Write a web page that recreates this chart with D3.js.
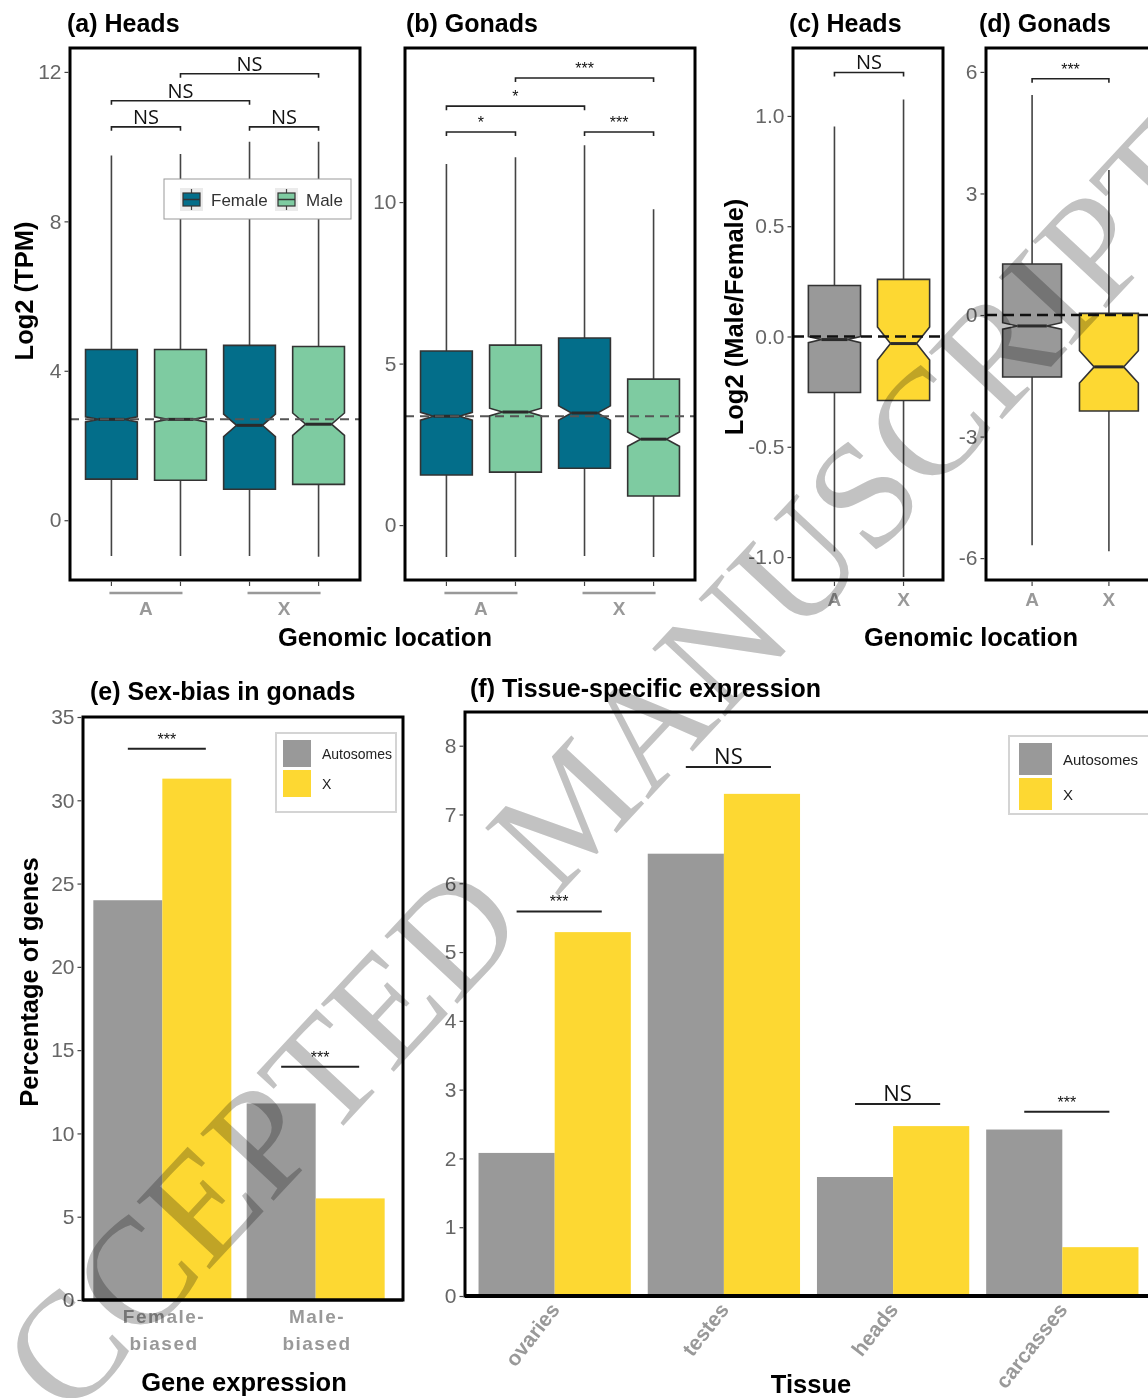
<!DOCTYPE html>
<html>
<head>
<meta charset="utf-8">
<script src="https://cdn.jsdelivr.net/npm/d3@7"></script>
<style>
  body { margin: 0; background: #fff; }
  svg { font-family: "Liberation Sans", Arial, sans-serif; }
</style>
</head>
<body>
<svg id="fig" width="1148" height="1398"></svg>
<script>
// ---------- data ----------
const locations = ["A", "X"];
const sexes = ["Female", "Male"];

// (a) heads, log2 TPM — box order: A-Female, A-Male, X-Female, X-Male
const headsLower = [-0.96, -0.96, -0.96, -0.98];
const headsQ1 = [1.10, 1.07, 0.83, 0.96];
const headsMedian = [2.70, 2.70, 2.54, 2.57];
const headsQ3 = [4.57, 4.57, 4.68, 4.65];
const headsUpper = [9.76, 9.80, 10.13, 10.13];
const headsNotch = [0.07, 0.07, 0.30, 0.30];
const headsSig = [
  { a: 0, b: 1, y: 10.53, label: "NS" },
  { a: 0, b: 2, y: 11.23, label: "NS" },
  { a: 2, b: 3, y: 10.53, label: "NS" },
  { a: 1, b: 3, y: 11.95, label: "NS" }
];

// (b) gonads, log2 TPM
const gonadsLower = [-0.99, -0.99, -0.96, -0.99];
const gonadsQ1 = [1.55, 1.64, 1.76, 0.90];
const gonadsMedian = [3.37, 3.50, 3.47, 2.66];
const gonadsQ3 = [5.39, 5.57, 5.79, 4.52];
const gonadsUpper = [11.18, 11.39, 11.76, 9.78];
const gonadsNotch = [0.12, 0.12, 0.22, 0.22];
const gonadsSig = [
  { a: 0, b: 1, y: 12.17, label: "*" },
  { a: 2, b: 3, y: 12.17, label: "***" },
  { a: 0, b: 2, y: 12.97, label: "*" },
  { a: 1, b: 3, y: 13.84, label: "***" }
];

// (c) heads, log2 male/female — order: A, X
const ratioHeadsLower = [-0.975, -1.09];
const ratioHeadsQ1 = [-0.254, -0.29];
const ratioHeadsMedian = [-0.014, -0.032];
const ratioHeadsQ3 = [0.231, 0.259];
const ratioHeadsUpper = [0.952, 1.075];
const ratioHeadsNotch = [0.014, 0.075];
const ratioHeadsSig = [{ a: 0, b: 1, y: 1.197, label: "NS" }];

// (d) gonads, log2 male/female
const ratioGonadsLower = [-5.68, -5.83];
const ratioGonadsQ1 = [-1.53, -2.37];
const ratioGonadsMedian = [-0.27, -1.28];
const ratioGonadsQ3 = [1.26, 0.04];
const ratioGonadsUpper = [5.43, 3.58];
const ratioGonadsNotch = [0.08, 0.40];
const ratioGonadsSig = [{ a: 0, b: 1, y: 5.83, label: "***" }];

// (e) sex-biased genes in gonads (%)
const chromTypes = ["Autosomes", "X"];
const biasCategories = ["Female-biased", "Male-biased"];
const biasAutosomes = [24.0, 11.8];
const biasX = [31.3, 6.1];
const biasSig = [{ cat: 0, y: 33.1, label: "***" }, { cat: 1, y: 14.0, label: "***" }];

// (f) tissue-specific expression (%)
const tissues = ["ovaries", "testes", "heads", "carcasses"];
const tissueAutosomes = [2.08, 6.43, 1.73, 2.42];
const tissueX = [5.29, 7.30, 2.47, 0.71];
const tissueSig = [
  { cat: 0, y: 5.59, label: "***" },
  { cat: 1, y: 7.69, label: "NS" },
  { cat: 2, y: 2.79, label: "NS" },
  { cat: 3, y: 2.68, label: "***" }
];

// ---------- drawing ----------
const svg = d3.select("#fig");
const teal = "#036e8a", mint = "#7ecba1", greyFill = "#999999", yellow = "#fdd832";
const tickGrey = "#666";
const labelSize = "25.5px";

function styleAxis(g, size) {
  g.select(".domain").remove();
  g.selectAll(".tick line").attr("stroke", "#444").attr("stroke-width", 1.2);
  g.selectAll(".tick text")
    .attr("fill", tickGrey)
    .style("font-size", size + "px")
    .style("font-family", "'Liberation Sans', Arial, sans-serif");
}

function bracket(g, xa, xb, y, label, withEnds, big) {
  const d = withEnds ? `M${xa},${y + 4}V${y}H${xb}V${y + 4}` : `M${xa},${y}H${xb}`;
  g.append("path").attr("d", d).attr("fill", "none").attr("stroke", "#222").attr("stroke-width", withEnds ? 1.6 : 2);
  const isNS = label === "NS";
  g.append("text")
    .attr("x", (xa + xb) / 2)
    .attr("y", isNS ? y - 3 : y - 4)
    .attr("text-anchor", "middle")
    .style("font-family", isNS ? "'Open Sans', sans-serif" : "'Liberation Sans', sans-serif")
    .style("font-size", isNS ? (big ? "22px" : "20px") : "16px")
    .attr("fill", "#111")
    .text(label);
}

function title(x, y, txt) {
  svg.append("text").attr("x", x).attr("y", y)
    .style("font-size", "25px").style("font-weight", "bold").text(txt);
}

function drawBoxPanel(p) {
  const g = svg.append("g");
  const top = 48, bottom = 580;
  const y = d3.scaleLinear().domain(p.yDomain).range([bottom, top]);
  const xLoc = d3.scalePoint().domain(locations).range([p.x0, p.x1]).padding(p.padding);
  const step = xLoc.step();
  const xSex = d3.scalePoint().domain(sexes).range([-step / 4, step / 4]);
  const keys = p.nested ? d3.cross(locations, sexes) : locations.map(l => [l]);
  const xPos = k => xLoc(k[0]) + (k.length > 1 ? xSex(k[1]) : 0);
  const w = p.boxFrac * step;
  const s = p.stats;

  const boxes = keys.map((k, i) => ({
    key: k, x: xPos(k),
    lo: s.lower[i], q1: s.q1[i], med: s.median[i], q3: s.q3[i], hi: s.upper[i], notch: s.notch[i]
  }));

  // whiskers
  g.selectAll(".whisk").data(boxes).enter().append("path")
    .attr("d", b => `M${b.x},${y(b.hi)}V${y(b.q3)}M${b.x},${y(b.q1)}V${y(b.lo)}`)
    .attr("stroke", "#444").attr("stroke-width", 1.6);

  // notched boxes
  g.selectAll(".box").data(boxes).enter().append("path")
    .attr("d", b => {
      const l = b.x - w / 2, r = b.x + w / 2;
      const nh = y(b.med + b.notch), nl = y(b.med - b.notch), m = y(b.med);
      return `M${l},${y(b.q3)}H${r}V${nh}L${b.x + w / 4},${m}L${r},${nl}V${y(b.q1)}H${l}V${nl}L${b.x - w / 4},${m}L${l},${nh}Z`;
    })
    .attr("fill", b => p.fill(b.key))
    .attr("stroke", "#333").attr("stroke-width", 1.6);

  g.selectAll(".med").data(boxes).enter().append("line")
    .attr("x1", b => b.x - w / 4).attr("x2", b => b.x + w / 4)
    .attr("y1", b => y(b.med)).attr("y2", b => y(b.med))
    .attr("stroke", "#2b2b2b").attr("stroke-width", 3);

  // reference line
  g.append("line")
    .attr("x1", p.x0).attr("x2", p.frameRight)
    .attr("y1", y(p.ref)).attr("y2", y(p.ref))
    .attr("stroke", p.refColor).attr("stroke-width", p.refWidth)
    .attr("stroke-dasharray", p.refDash);

  // significance
  p.sig.forEach(d => bracket(g, boxes[d.a].x, boxes[d.b].x, y(d.y), d.label, true, false));

  // frame
  g.append("rect").attr("x", p.x0).attr("y", top)
    .attr("width", p.frameRight - p.x0).attr("height", bottom - top)
    .attr("fill", "none").attr("stroke", "#000").attr("stroke-width", 3);

  // y axis
  const ya = g.append("g").attr("transform", `translate(${p.x0 - 1.5},0)`)
    .call(d3.axisLeft(y).tickValues(p.ticks).tickFormat(p.fmt).tickSize(4).tickPadding(3));
  styleAxis(ya, 21);

  // x ticks and labels
  g.selectAll(".xt").data(boxes).enter().append("line")
    .attr("x1", b => b.x).attr("x2", b => b.x).attr("y1", bottom + 1.5).attr("y2", bottom + 6)
    .attr("stroke", "#444").attr("stroke-width", 1.2);
  if (p.nested) {
    locations.forEach((loc, i) => {
      const xa = boxes[i * 2].x, xb = boxes[i * 2 + 1].x;
      g.append("line").attr("x1", xa - 2).attr("x2", xb + 2).attr("y1", 593).attr("y2", 593)
        .attr("stroke", "#999").attr("stroke-width", 2.5);
      g.append("text").attr("x", xLoc(loc)).attr("y", 615).attr("text-anchor", "middle")
        .attr("fill", "#999").style("font-weight", "bold").style("font-size", "19px").text(loc);
    });
  } else {
    boxes.forEach(b => {
      g.append("text").attr("x", b.x).attr("y", 606).attr("text-anchor", "middle")
        .attr("fill", "#999").style("font-weight", "bold").style("font-size", "19px").text(b.key[0]);
    });
  }
  return { g, boxes };
}

// (a)
title(67, 32, "(a) Heads");
const panelA = drawBoxPanel({
  x0: 70, x1: 360, frameRight: 360, padding: 0.55, nested: true, boxFrac: 0.375,
  yDomain: [-1.6, 12.64], ticks: [0, 4, 8, 12], fmt: d => d,
  stats: { lower: headsLower, q1: headsQ1, median: headsMedian, q3: headsQ3, upper: headsUpper, notch: headsNotch },
  fill: k => k[1] === "Female" ? teal : mint,
  ref: headsMedian[0], refColor: "#555", refWidth: 2, refDash: "9,6",
  sig: headsSig
});

// legend for (a)
const leg = panelA.g.append("g");
leg.append("rect").attr("x", 164).attr("y", 179).attr("width", 187).attr("height", 40)
  .attr("fill", "#fff").attr("stroke", "#999").attr("stroke-width", 1);
[["Female", teal, 180, 211], ["Male", mint, 275, 306]].forEach(([name, col, kx, tx]) => {
  leg.append("rect").attr("x", kx).attr("y", 188).attr("width", 23).attr("height", 23).attr("fill", "#ebebeb");
  leg.append("line").attr("x1", kx + 11.5).attr("x2", kx + 11.5).attr("y1", 189).attr("y2", 210).attr("stroke", "#444").attr("stroke-width", 1.2);
  leg.append("rect").attr("x", kx + 3).attr("y", 193).attr("width", 17).attr("height", 13)
    .attr("fill", col).attr("stroke", "#333").attr("stroke-width", 1.2);
  leg.append("line").attr("x1", kx + 3).attr("x2", kx + 20).attr("y1", 199.5).attr("y2", 199.5).attr("stroke", "#333").attr("stroke-width", 1.5);
  leg.append("text").attr("x", tx).attr("y", 206).attr("fill", "#333").style("font-size", "17px").text(name);
});

svg.append("text").attr("transform", "translate(33,291) rotate(-90)").attr("text-anchor", "middle")
  .style("font-size", labelSize).style("font-weight", "bold").text("Log2 (TPM)");

// (b)
title(406, 32, "(b) Gonads");
drawBoxPanel({
  x0: 405, x1: 695, frameRight: 695, padding: 0.55, nested: true, boxFrac: 0.375,
  yDomain: [-1.7, 14.77], ticks: [0, 5, 10], fmt: d => d,
  stats: { lower: gonadsLower, q1: gonadsQ1, median: gonadsMedian, q3: gonadsQ3, upper: gonadsUpper, notch: gonadsNotch },
  fill: k => k[1] === "Female" ? teal : mint,
  ref: gonadsMedian[0], refColor: "#555", refWidth: 2, refDash: "9,6",
  sig: gonadsSig
});

svg.append("text").attr("x", 385).attr("y", 646).attr("text-anchor", "middle")
  .style("font-size", labelSize).style("font-weight", "bold").text("Genomic location");

// (c)
title(789, 32, "(c) Heads");
drawBoxPanel({
  x0: 793, x1: 945, frameRight: 943, padding: 0.6, nested: false, boxFrac: 0.755,
  yDomain: [-1.104, 1.308], ticks: [-1, -0.5, 0, 0.5, 1], fmt: d => d.toFixed(1),
  stats: { lower: ratioHeadsLower, q1: ratioHeadsQ1, median: ratioHeadsMedian, q3: ratioHeadsQ3, upper: ratioHeadsUpper, notch: ratioHeadsNotch },
  fill: k => k[0] === "A" ? greyFill : yellow,
  ref: 0, refColor: "#111", refWidth: 2.5, refDash: "11,6",
  sig: ratioHeadsSig
});

svg.append("text").attr("transform", "translate(743,317) rotate(-90)").attr("text-anchor", "middle")
  .style("font-size", labelSize).style("font-weight", "bold").text("Log2 (Male/Female)");

// (d)
title(979, 32, "(d) Gonads");
drawBoxPanel({
  x0: 986, x1: 1155, frameRight: 1160, padding: 0.6, nested: false, boxFrac: 0.766,
  yDomain: [-6.54, 6.59], ticks: [-6, -3, 0, 3, 6], fmt: d => d,
  stats: { lower: ratioGonadsLower, q1: ratioGonadsQ1, median: ratioGonadsMedian, q3: ratioGonadsQ3, upper: ratioGonadsUpper, notch: ratioGonadsNotch },
  fill: k => k[0] === "A" ? greyFill : yellow,
  ref: 0, refColor: "#111", refWidth: 2.5, refDash: "11,6",
  sig: ratioGonadsSig
});

svg.append("text").attr("x", 971).attr("y", 646).attr("text-anchor", "middle")
  .style("font-size", labelSize).style("font-weight", "bold").text("Genomic location");

// ---------- bar panels ----------
function drawBarPanel(p) {
  const g = svg.append("g");
  const y = d3.scaleLinear().domain(p.yDomain).range([p.bottom, p.top]);
  const x = d3.scaleBand().domain(p.cats).range(p.xRange).paddingInner(0.1).paddingOuter(p.outer);
  const sub = d3.scaleBand().domain(chromTypes).range([0, x.bandwidth()]);
  const rows = p.cats.map((c, i) => ({ cat: c, vals: [p.auto[i], p.xvals[i]] }));

  const grp = g.selectAll(".grp").data(rows).enter().append("g")
    .attr("transform", d => `translate(${x(d.cat)},0)`);
  grp.selectAll("rect").data(d => d.vals.map((v, j) => ({ type: chromTypes[j], v }))).enter().append("rect")
    .attr("x", d => sub(d.type))
    .attr("y", d => y(d.v))
    .attr("width", sub.bandwidth())
    .attr("height", d => p.bottom - y(d.v))
    .attr("fill", d => d.type === "X" ? yellow : greyFill);

  p.sig.forEach(d => {
    const c = p.cats[d.cat];
    const xa = x(c) + sub("Autosomes") + sub.bandwidth() / 2;
    const xb = x(c) + sub("X") + sub.bandwidth() / 2 + 9;
    bracket(g, xa, xb, y(d.y), d.label, false, true);
  });

  // frame
  g.append("rect").attr("x", p.frame[0]).attr("y", p.top)
    .attr("width", p.frame[1] - p.frame[0]).attr("height", p.bottom - p.top)
    .attr("fill", "none").attr("stroke", "#000").attr("stroke-width", 3);
  g.append("line").attr("x1", p.frame[0]).attr("x2", p.frame[1]).attr("y1", p.bottom).attr("y2", p.bottom)
    .attr("stroke", "#000").attr("stroke-width", p.bottomWidth);

  const ya = g.append("g").attr("transform", `translate(${p.frame[0] - 1.5},0)`)
    .call(d3.axisLeft(y).tickValues(p.ticks).tickSize(4).tickPadding(3));
  styleAxis(ya, 21);

  // legend
  const lg = g.append("g");
  const L = p.legend;
  lg.append("rect").attr("x", L.x).attr("y", L.y).attr("width", L.w).attr("height", L.h)
    .attr("fill", "#fff").attr("stroke", "#d4d4d4").attr("stroke-width", 2);
  chromTypes.forEach((t, j) => {
    lg.append("rect").attr("x", L.x + L.pad).attr("y", L.y + 7 + j * L.key).attr("width", L.key - 2).attr("height", L.key - 3)
      .attr("fill", t === "X" ? yellow : greyFill);
    lg.append("text").attr("x", L.x + L.pad + L.key + 9).attr("y", L.y + 7 + j * L.key + L.key / 2 + 4)
      .attr("fill", "#222").style("font-size", L.font + "px").text(t);
  });
  return { g, x };
}

// (e)
title(90, 700, "(e) Sex-bias in gonads");
const panelE = drawBarPanel({
  cats: biasCategories, auto: biasAutosomes, xvals: biasX, sig: biasSig,
  yDomain: [0, 35], ticks: [0, 5, 10, 15, 20, 25, 30, 35],
  top: 717, bottom: 1300, xRange: [78, 400], outer: 0.1, frame: [83, 403], bottomWidth: 3,
  legend: { x: 276, y: 733, w: 120, h: 79, pad: 7, key: 30, font: 14 }
});
[["Female-", "biased", 164], ["Male-", "biased", 317]].forEach(([l1, l2, cx]) => {
  const t = svg.append("text").attr("text-anchor", "middle").attr("fill", "#999")
    .style("font-weight", "bold").style("font-size", "19px").style("letter-spacing", "1.5px");
  t.append("tspan").attr("x", cx).attr("y", 1323).text(l1);
  t.append("tspan").attr("x", cx).attr("y", 1350).text(l2);
});
svg.append("text").attr("x", 244).attr("y", 1391).attr("text-anchor", "middle")
  .style("font-size", labelSize).style("font-weight", "bold").text("Gene expression");
svg.append("text").attr("transform", "translate(38,982) rotate(-90)").attr("text-anchor", "middle")
  .style("font-size", labelSize).style("font-weight", "bold").text("Percentage of genes");

// (f)
title(470, 697, "(f) Tissue-specific expression");
const panelF = drawBarPanel({
  cats: tissues, auto: tissueAutosomes, xvals: tissueX, sig: tissueSig,
  yDomain: [0, 8.49], ticks: d3.range(0, 9),
  top: 712, bottom: 1296, xRange: [465, 1152], outer: 0.08, frame: [465, 1165], bottomWidth: 4,
  legend: { x: 1009, y: 736, w: 160, h: 78, pad: 10, key: 35, font: 15 }
});
tissues.forEach(t => {
  const cx = panelF.x(t) + panelF.x.bandwidth() / 2 + 6;
  svg.append("text").attr("transform", `translate(${cx},1310) rotate(-52)`).attr("text-anchor", "end")
    .attr("fill", "#999").style("font-weight", "bold").style("font-size", "21px").text(t);
});
svg.append("text").attr("x", 811).attr("y", 1393).attr("text-anchor", "middle")
  .style("font-size", labelSize).style("font-weight", "bold").text("Tissue");

// watermark
svg.append("text")
  .attr("transform", "translate(571,807) rotate(-47)")
  .attr("text-anchor", "middle").attr("dominant-baseline", "central")
  .style("font-family", "'Liberation Serif', 'DejaVu Serif', serif")
  .style("font-size", "152px")
  .style("mix-blend-mode", "multiply")
  .style("pointer-events", "none")
  .attr("fill", "#c2c2c2")
  .text("ACCEPTED MANUSCRIPT");
</script>
</body>
</html>
